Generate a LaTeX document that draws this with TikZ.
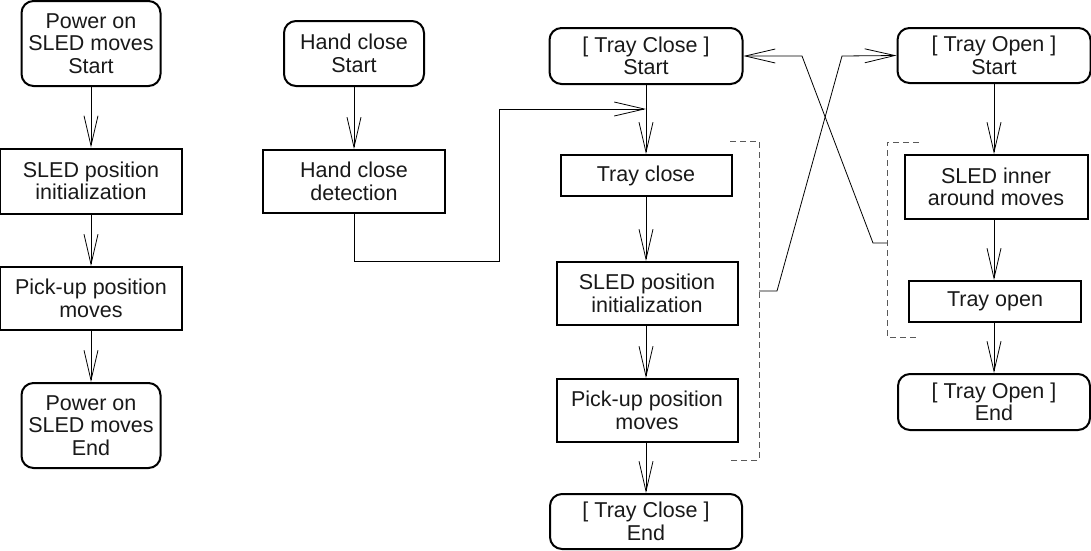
\documentclass[tikz,border=0pt]{standalone}
\usepackage{fontspec}
\setmainfont{Liberation Sans}
\usetikzlibrary{arrows.meta}
\begin{document}
\begin{tikzpicture}[x=1pt,y=-1pt,
  every node/.style={font=\fontsize{21.5}{22.5}\selectfont, align=center, inner sep=0pt, text=black!90},
  rbox/.style={draw, line width=2pt, rounded corners=12pt, minimum width=#1},
  sbox/.style={draw, line width=2pt, minimum width=#1},
  conn/.style={line width=0.8pt},
  arr/.style={conn, -{Straight Barb[length=30pt,width=14pt]}},
  brk/.style={line width=1pt, draw=black!65, dash pattern=on 6pt off 4pt}]
\useasboundingbox (0,0) rectangle (1091,550);

% column 1
\node[rbox=139, minimum height=85] (p1) at (91,43.5) {Power on\\SLED moves\\Start};
\node[sbox=182, minimum height=65] (p2) at (91,181) {SLED position\\initialization};
\node[sbox=182, minimum height=63] (p3) at (91,298.5) {Pick-up position\\moves};
\node[rbox=139, minimum height=85] (p4) at (91,425.5) {Power on\\SLED moves\\End};
\draw[arr] (p1) -- (p2);
\draw[arr] (p2) -- (p3);
\draw[arr] (p3) -- (p4);

% column 2
\node[rbox=140, minimum height=65] (h1) at (354,53.5) {Hand close\\Start};
\node[sbox=182, minimum height=63] (h2) at (354,181.5) {Hand close\\detection};
\draw[arr] (h1) -- (h2);

% column 3
\node[rbox=193, minimum height=56] (c1) at (646,56) {[ Tray Close ]\\Start};
\node[sbox=171, minimum height=41] (c2) at (646,175.5) {Tray close};
\node[sbox=181, minimum height=63] (c3) at (647,293.5) {SLED position\\initialization};
\node[sbox=181, minimum height=63] (c4) at (647,410.5) {Pick-up position\\moves};
\node[rbox=192, minimum height=55] (c5) at (646,521.5) {[ Tray Close ]\\End};
\coordinate (m) at (646,109);
\draw[arr] (c1.south) -- (c2.north);
\draw[arr] (c2.south) -- (c2.south |- c3.north);
\draw[arr] (c3.south -| c2.south) -- (c2.south |- c4.north);
\draw[arr] (c4.south -| c2.south) -- (c5.north);

% hand close -> tray close merge
\coordinate (hA) at (354,261);
\coordinate (hB) at (499,261);
\coordinate (hC) at (499,109);
\draw[arr] (h2.south) -- (hA) -- (hB) -- (hC) -- (m);

% column 4
\node[rbox=193, minimum height=55] (o1) at (994,55.5) {[ Tray Open ]\\Start};
\node[sbox=183, minimum height=64] (o2) at (996,187) {SLED inner\\around moves};
\node[sbox=172, minimum height=41] (o3) at (995,301.5) {Tray open};
\node[rbox=192, minimum height=56] (o4) at (994,402) {[ Tray Open ]\\End};
\draw[arr] (o1.south) -- (o1.south |- o2.north);
\draw[arr] (o2.south -| o1.south) -- (o1.south |- o3.north);
\draw[arr] (o3.south -| o1.south) -- (o4.north);

% dashed brackets
\coordinate (b3a) at (730,141);
\coordinate (b3b) at (759,141);
\coordinate (b3c) at (759,460);
\coordinate (b3d) at (728,460);
\draw[brk] (b3a) -- (b3b) -- (b3c) -- (b3d);
\coordinate (b4a) at (919,142);
\coordinate (b4b) at (887,142);
\coordinate (b4c) at (887,337);
\coordinate (b4d) at (919,337);
\draw[brk] (b4a) -- (b4b) -- (b4c) -- (b4d);

% crossing connectors
\coordinate (x3s) at (759,291);
\coordinate (x3a) at (777,291);
\coordinate (x3b) at (842,56);
\draw[arr] (x3s) -- (x3a) -- (x3b) -- (o1.west);
\coordinate (x4s) at (887,243);
\coordinate (x4a) at (873,243);
\coordinate (x4b) at (802,56);
\draw[arr] (x4s) -- (x4a) -- (x4b) -- (c1.east);
\end{tikzpicture}
\end{document}
